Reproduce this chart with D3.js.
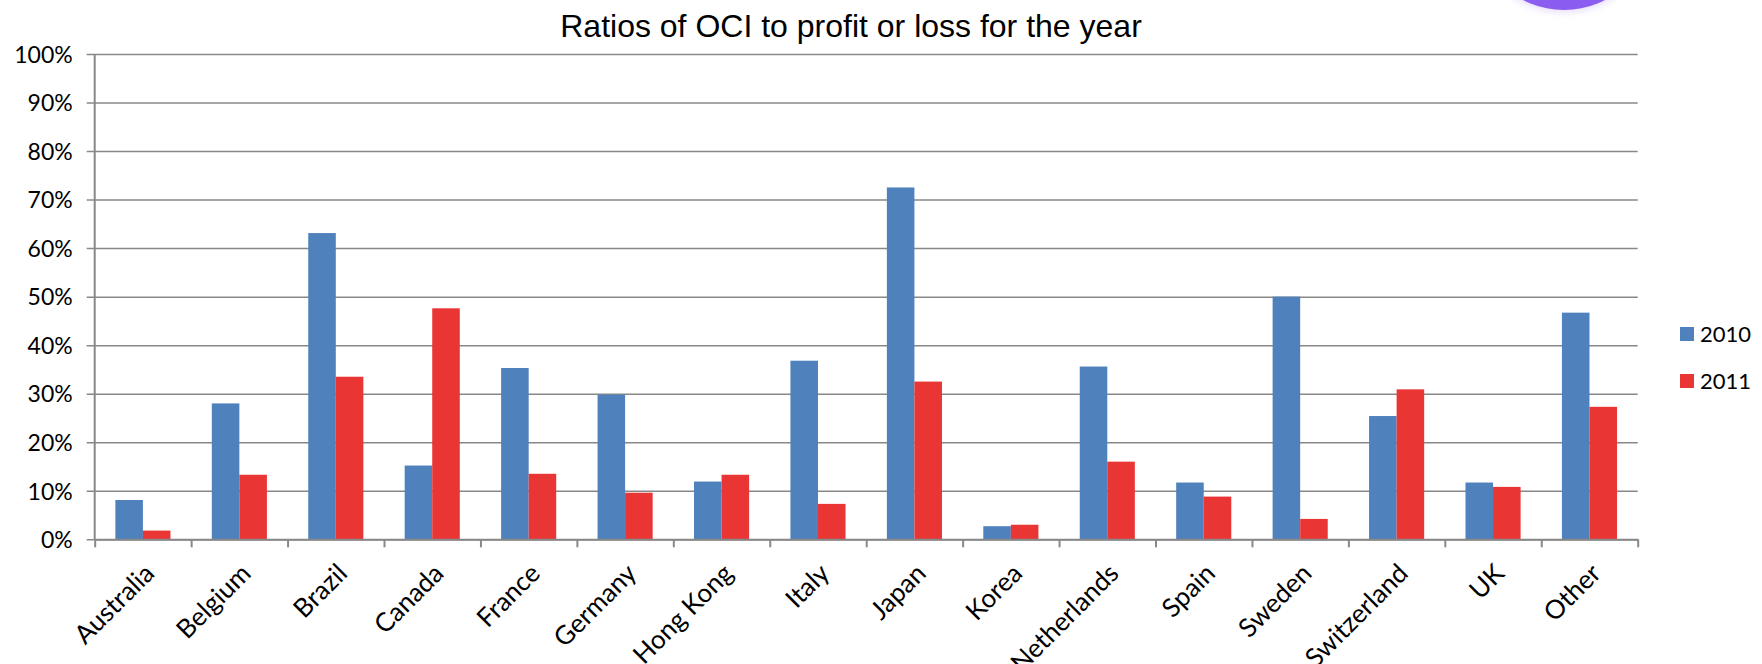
<!DOCTYPE html>
<html><head><meta charset="utf-8">
<script src="https://cdn.jsdelivr.net/npm/d3@7"></script>
<style>html,body{margin:0;padding:0;background:#fff;} svg{display:block}</style>
</head><body>
<svg id="chart" width="1762" height="664"></svg>
<script>
const categories = ["Australia","Belgium","Brazil","Canada","France","Germany","Hong Kong","Italy","Japan","Korea","Netherlands","Spain","Sweden","Switzerland","UK","Other"];
const seriesNames = ["2010","2011"];
const values2010 = [0.081,0.280,0.631,0.152,0.353,0.298,0.119,0.368,0.725,0.027,0.356,0.117,0.500,0.254,0.117,0.467];
const values2011 = [0.018,0.133,0.335,0.476,0.135,0.096,0.133,0.073,0.325,0.030,0.160,0.088,0.042,0.309,0.108,0.273];
const yTicks = [0,0.1,0.2,0.3,0.4,0.5,0.6,0.7,0.8,0.9,1.0];
const titleText = "Ratios of OCI to profit or loss for the year";
const seriesColors = ["#4F81BD","#EA3535"];

(function () {
const svg = d3.select("#chart");
const plotLeft = 94.7, plotRight = 1637.7, plotTop = 54, plotBottom = 539.3;
const axisColor = "#888888";

// decorative purple circle at top (slide element)
const defs = svg.append("defs");
const blur = defs.append("filter").attr("id","glow").attr("x","-20%").attr("y","-20%").attr("width","140%").attr("height","140%");
blur.append("feGaussianBlur").attr("stdDeviation",3);
svg.append("circle").attr("cx",1564).attr("cy",-79).attr("r",92).attr("fill","#e9e2fb").attr("filter","url(#glow)");
svg.append("circle").attr("cx",1564).attr("cy",-79).attr("r",89).attr("fill","#8B5CF0");

const x0 = d3.scaleBand().domain(categories).range([plotLeft, plotRight]).paddingInner(3/7).paddingOuter(1.5/7);
const x1 = d3.scaleBand().domain(seriesNames).range([0, x0.bandwidth()]);
const xb = d3.scaleLinear().domain([0, categories.length]).range([plotLeft, plotRight]);
const y = d3.scaleLinear().domain([0, 1]).range([plotBottom, plotTop]);

// gridlines
const grid = svg.append("g").attr("transform", `translate(${plotRight},0)`)
  .call(d3.axisLeft(y).tickValues(yTicks).tickSize(plotRight - plotLeft + 8).tickFormat(""));
grid.select(".domain").remove();
grid.selectAll("line").attr("stroke", axisColor).attr("stroke-width", 1.5);

// y labels
const yLab = svg.append("g").attr("transform", `translate(${plotLeft},0)`)
  .call(d3.axisLeft(y).tickValues(yTicks).tickSize(0).tickPadding(22).tickFormat(d3.format(".0%")));
yLab.select(".domain").remove();
yLab.selectAll("text").attr("font-family","Lato, 'Open Sans', sans-serif").attr("font-size",23).attr("fill","#000").attr("dy","0.36em");

// bars
const data = categories.map((c, i) => ({cat: c, vals: [values2010[i], values2011[i]]}));
const groups = svg.append("g").selectAll("g").data(data).join("g")
  .attr("transform", d => `translate(${x0(d.cat)},0)`);
groups.selectAll("rect").data(d => d.vals.map((v, j) => ({v, s: seriesNames[j], j})))
  .join("rect")
  .attr("x", d => x1(d.s))
  .attr("width", x1.bandwidth())
  .attr("y", d => y(d.v))
  .attr("height", d => y(0) - y(d.v))
  .attr("fill", d => seriesColors[d.j]);

// y axis line
svg.append("line").attr("x1", plotLeft).attr("x2", plotLeft).attr("y1", plotTop).attr("y2", plotBottom)
  .attr("stroke", axisColor).attr("stroke-width", 2);

// x axis with boundary ticks
const xAxis = svg.append("g").attr("transform", `translate(0,${plotBottom})`)
  .call(d3.axisBottom(xb).tickValues(d3.range(0, categories.length + 1)).tickSizeInner(8).tickSizeOuter(0).tickFormat(""));
xAxis.select(".domain").attr("stroke", axisColor).attr("stroke-width", 2);
xAxis.selectAll("line").attr("stroke", axisColor).attr("stroke-width", 2);

// category labels
svg.append("g").selectAll("text").data(categories).join("text")
  .attr("transform", d => `translate(${x0(d) + x0.bandwidth()/2 + 13},575) rotate(-45)`)
  .attr("text-anchor","end")
  .attr("font-family","Lato, 'Open Sans', sans-serif")
  .attr("font-size",26)
  .attr("fill","#000")
  .text(d => d);

// title
svg.append("text").attr("x", 851).attr("y", 37).attr("text-anchor","middle")
  .attr("font-family","'Liberation Sans', Arial, sans-serif").attr("font-size",32).attr("fill","#000")
  .text(titleText);

// legend
const legend = svg.append("g").selectAll("g").data(seriesNames).join("g")
  .attr("transform", (d, i) => `translate(1680,${327 + i * 47})`);
legend.append("rect").attr("width",14).attr("height",14).attr("fill",(d,i)=>seriesColors[i]);
legend.append("text").attr("x",20).attr("y",7).attr("dy","0.36em")
  .attr("font-family","Lato, 'Open Sans', sans-serif").attr("font-size",22).attr("fill","#000")
  .text(d => d);
})();
</script>
</body></html>
